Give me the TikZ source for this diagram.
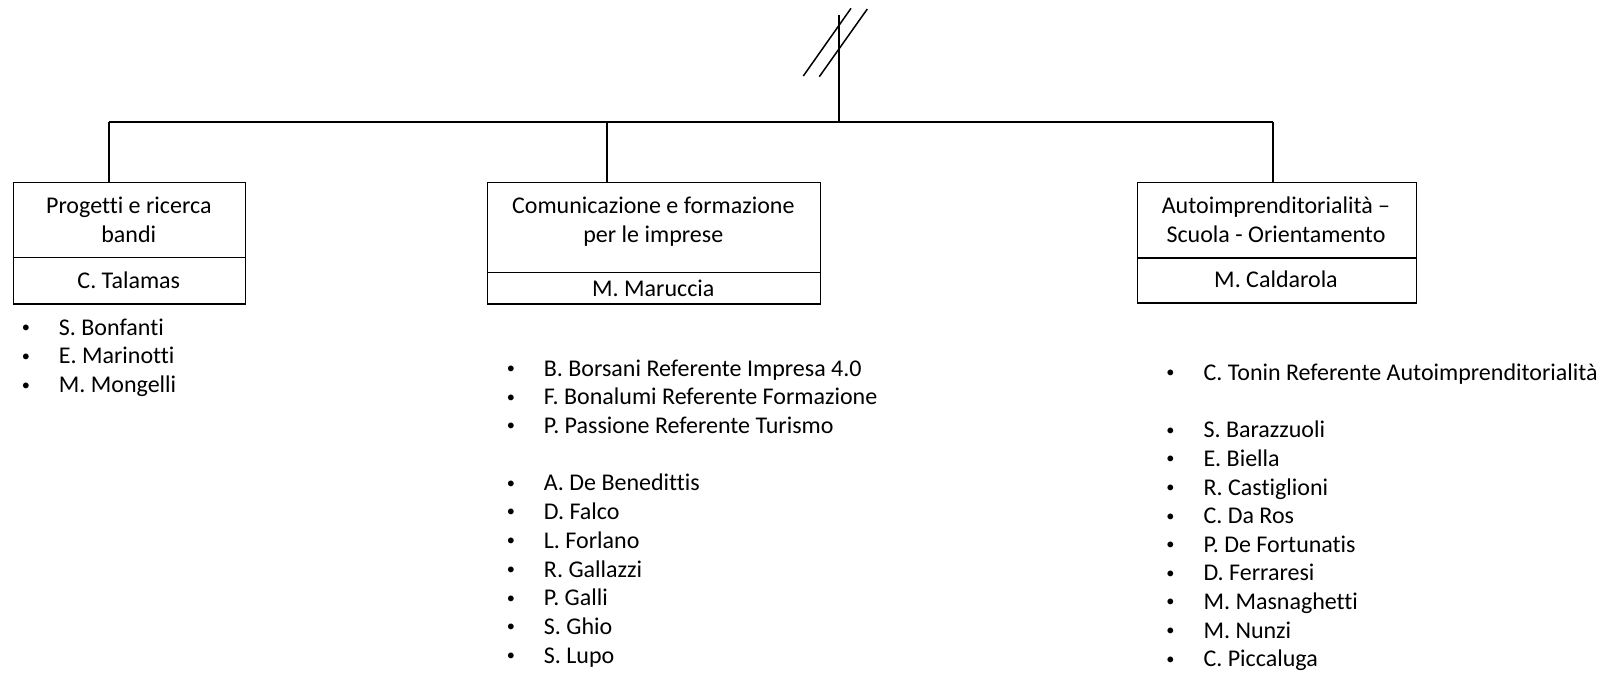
\documentclass[tikz,border=0pt]{standalone}
\usepackage{fontspec}
\setmainfont{Carlito}[Ligatures={NoCommon,NoContextual}]
\begin{document}
\begin{tikzpicture}[x=1pt,y=-1pt,
  box/.style={draw, line width=1.2pt, inner sep=0pt, anchor=north west},
  lbl/.style={anchor=base, inner sep=0pt, font=\fontsize{24}{28.8}\selectfont},
  item/.style={anchor=base west, inner sep=0pt, font=\fontsize{24}{28.8}\selectfont},
  conn/.style={line width=2pt},
  tick/.style={line width=1.5pt}]
\useasboundingbox (0,0) rectangle (1614,673);

% boxes
\node[box, minimum width=232.4pt, minimum height=75.3pt] (b1a) at (12.6,181.7) {};
\node[box, minimum width=232.4pt, minimum height=46.3pt] (b1b) at (12.6,257) {};
\node[box, minimum width=333pt, minimum height=90.3pt] (b2a) at (486.8,181.7) {};
\node[box, minimum width=333pt, minimum height=31.3pt] (b2b) at (486.8,272) {};
\node[box, minimum width=279.3pt, minimum height=75.6pt] (b3a) at (1136.7,181.7) {};
\node[box, minimum width=279.3pt, minimum height=45pt] (b3b) at (1136.7,257.3) {};

% box texts
\node[lbl] (t1a) at (128.8,213.3) {Progetti e ricerca};
\node[lbl] (t1b) at (128.8,242.3) {bandi};
\node[lbl] (t1c) at (128.8,288.3) {C. Talamas};
\node[lbl] (t2a) at (653.3,213.3) {Comunicazione e formazione};
\node[lbl] (t2b) at (653.3,242.3) {per le imprese};
\node[lbl] (t2c) at (653.3,296) {M. Maruccia};
\node[lbl] (t3a) at (1276,213.3) {Autoimprenditorialità –};
\node[lbl] (t3b) at (1276,242.5) {Scuola - Orientamento};
\node[lbl] (t3c) at (1276,287.7) {M. Caldarola};

% connectors
\coordinate (top) at (839,15);
\coordinate (hl) at (109,122);
\coordinate (hr) at (1273,122);
\coordinate (hm) at (839,122);
\coordinate (j2) at (607.4,122);
\draw[conn] (hl) -- (hr);
\draw[conn] (top) -- (hm);
\draw[conn] (hl) -- (hl |- b1a.north);
\draw[conn] (j2) -- (j2 |- b2a.north);
\draw[conn] (hr) -- (hr |- b3a.north);
\coordinate (s1a) at (803.3,76);
\coordinate (s1b) at (851,8.3);
\coordinate (s2a) at (819.3,76.7);
\coordinate (s2b) at (867.3,9);
\draw[tick] (s1a) -- (s1b);
\draw[tick] (s2a) -- (s2b);

% lists
\newcommand{\itm}[1]{\makebox[0pt]{\raisebox{2.6pt}{\scalebox{0.68}{•}}}\hspace{33pt}#1}
\node[item] (l1) at (25.7,335) {\itm{S. Bonfanti}};
\node[item] (l2) at (25.7,363.8) {\itm{E. Marinotti}};
\node[item] (l3) at (25.7,392.6) {\itm{M. Mongelli}};

\node[item] (m1) at (510.7,376) {\itm{B. Borsani Referente Impresa 4.0}};
\node[item] (m2) at (510.7,404.7) {\itm{F. Bonalumi Referente Formazione}};
\node[item] (m3) at (510.7,433.5) {\itm{P. Passione Referente Turismo}};
\node[item] (m4) at (510.7,490.7) {\itm{A. De Benedittis}};
\node[item] (m5) at (510.7,519.4) {\itm{D. Falco}};
\node[item] (m6) at (510.7,548.2) {\itm{L. Forlano}};
\node[item] (m7) at (510.7,577) {\itm{R. Gallazzi}};
\node[item] (m8) at (510.7,605.7) {\itm{P. Galli}};
\node[item] (m9) at (510.7,634.5) {\itm{S. Ghio}};
\node[item] (m10) at (510.7,663.2) {\itm{S. Lupo}};

\node[item] (r1) at (1170.3,380) {\itm{C. Tonin Referente Autoimprenditorialità}};
\node[item] (r2) at (1170.3,437.7) {\itm{S. Barazzuoli}};
\node[item] (r3) at (1170.3,466.3) {\itm{E. Biella}};
\node[item] (r4) at (1170.3,495) {\itm{R. Castiglioni}};
\node[item] (r5) at (1170.3,523.6) {\itm{C. Da Ros}};
\node[item] (r6) at (1170.3,552.2) {\itm{P. De Fortunatis}};
\node[item] (r7) at (1170.3,580.9) {\itm{D. Ferraresi}};
\node[item] (r8) at (1170.3,609.5) {\itm{M. Masnaghetti}};
\node[item] (r9) at (1170.3,638.1) {\itm{M. Nunzi}};
\node[item] (r10) at (1170.3,666.7) {\itm{C. Piccaluga}};
\end{tikzpicture}
\end{document}
